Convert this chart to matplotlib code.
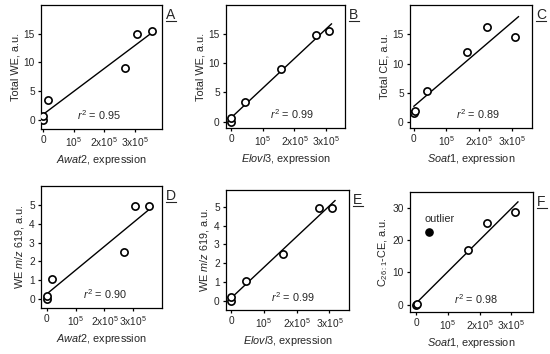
import numpy as np
import matplotlib
matplotlib.use("Agg")
import matplotlib.pyplot as plt

plt.rcParams['font.family'] = ['Liberation Sans', 'DejaVu Sans']
plt.rcParams['mathtext.fontset'] = 'custom'
plt.rcParams['mathtext.rm'] = 'Liberation Sans'
plt.rcParams['mathtext.it'] = 'Liberation Sans:italic'
plt.rcParams['mathtext.bf'] = 'Liberation Sans:bold'

# expression values (x)
awat2 = [0, 0, 0.17e5, 2.68e5, 3.08e5, 3.56e5]
elovl3 = [0, 0, 0.44e5, 1.59e5, 2.69e5, 3.08e5]
soat1 = [0, 0.02e5, 0.4e5, 1.63e5, 2.25e5, 3.12e5]

# measured values (y)
total_we = [0, 0.6, 3.4, 9.1, 14.9, 15.5]
total_ce = [1.55, 1.85, 5.3, 12.0, 16.3, 14.6]
we_619 = [0, 0.18, 1.07, 2.48, 4.93, 4.95]
c261_ce = [0, 0.2, 22.4, 16.8, 25.2, 28.7]
c261_outlier = [False, False, True, False, False, False]

r2_text = ["0.95", "0.99", "0.89", "0.90", "0.99", "0.98"]
letters = ["A", "B", "C", "D", "E", "F"]

xticks = [0, 1e5, 2e5, 3e5]
xticklabels = ["0", "10$^5$", "2x10$^5$", "3x10$^5$"]

panels = [
    (awat2, total_we, None, "$\\mathit{Awat2}$, expression", "Total WE, a.u.", [0, 5, 10, 15], (-0.07e5, 3.9e5), (-1.6, 20)),
    (elovl3, total_we, None, "$\\mathit{Elovl3}$, expression", "Total WE, a.u.", [0, 5, 10, 15], (-0.16e5, 3.6e5), (-1.1, 20)),
    (soat1, total_ce, None, "$\\mathit{Soat1}$, expression", "Total CE, a.u.", [0, 5, 10, 15], (-0.12e5, 3.63e5), (-1.0, 20)),
    (awat2, we_619, None, "$\\mathit{Awat2}$, expression", "WE $\\mathit{m/z}$ 619, a.u.", [0, 1, 2, 3, 4, 5], (-0.2e5, 4.0e5), (-0.47, 6.0)),
    (elovl3, we_619, None, "$\\mathit{Elovl3}$, expression", "WE $\\mathit{m/z}$ 619, a.u.", [0, 1, 2, 3, 4, 5], (-0.16e5, 3.6e5), (-0.5, 5.9)),
    (soat1, c261_ce, c261_outlier, "$\\mathit{Soat1}$, expression", "C$_{26:1}$-CE, a.u.", [0, 10, 20, 30], (-0.2e5, 3.69e5), (-2.3, 34.9)),
]

# axes boxes in pixels: left, top, right, bottom
boxes = [
    (41, 5, 162, 129), (226, 5, 345, 128), (410, 5, 532, 128),
    (41, 186, 162, 308), (226, 190, 349, 310), (410, 192, 533, 312),
]
r2_x = [0.48, 0.55, 0.56, 0.53, 0.54, 0.54]

W, H = 550, 354
fig = plt.figure(figsize=(W / 100, H / 100), dpi=100)
txt = '#262626'
fs = 7.8

for i, (x, y, out, xl, yl, yt, xlim, ylim) in enumerate(panels):
    l, t, r, b = boxes[i]
    ax = fig.add_axes([l / W, 1 - b / H, (r - l) / W, (b - t) / H])
    x = np.array(x)
    y = np.array(y)
    mask = np.ones(len(x), bool) if out is None else ~np.array(out)
    k, c = np.polyfit(x[mask], y[mask], 1)
    xs = np.array([0, x[mask].max() * 1.03])
    ax.plot(xs, k * xs + c, color='black', lw=1.0, zorder=2)
    ax.plot(x[mask], y[mask], 'o', ms=5.2, mfc='white', mec='black', mew=1.2, zorder=3)
    if out is not None:
        o = np.array(out)
        ax.plot(x[o], y[o], 'o', ms=5.2, color='black', zorder=3)
        ax.text(x[o][0] + 0.34e5, y[o][0] + 4.0, "outlier", fontsize=fs, color=txt, ha='center', va='center')
    ax.set_xlim(*xlim)
    ax.set_ylim(*ylim)
    ax.set_xticks(xticks)
    ax.set_xticklabels(xticklabels)
    ax.set_yticks(yt)
    ax.tick_params(direction='out', length=2.5, width=0.9, labelsize=7.3, colors='black', labelcolor=txt, pad=2)
    for s in ax.spines.values():
        s.set_linewidth(0.9)
    ax.set_xlabel(xl, fontsize=fs, color=txt, labelpad=3)
    ax.set_ylabel(yl, fontsize=fs, color=txt, labelpad=2)
    ax.text(r2_x[i], 0.11, "$\\mathit{r}^2$ = " + r2_text[i], transform=ax.transAxes, fontsize=fs, color=txt, ha='center', va='center')
    ax.text(1.035, 0.975, letters[i], transform=ax.transAxes, fontsize=10, color=txt, ha='left', va='top')
    ax.plot([1.035, 1.115], [0.87, 0.87], transform=ax.transAxes, color=txt, lw=0.8, clip_on=False)

fig.savefig("out.png", dpi=100)
